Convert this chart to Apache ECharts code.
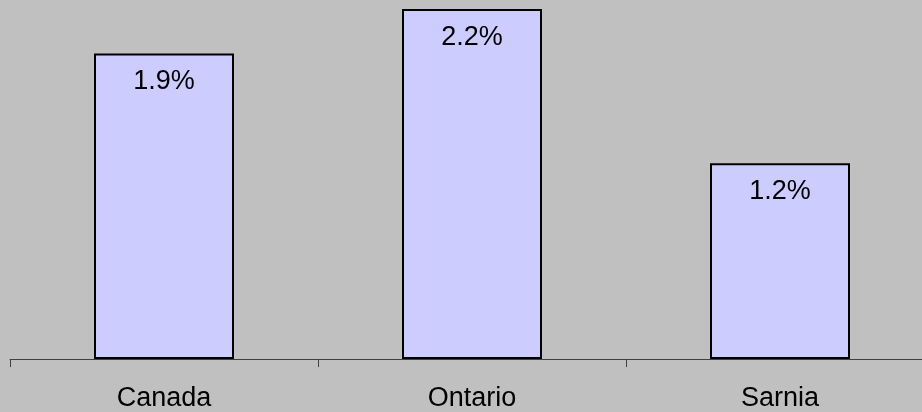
<!DOCTYPE html>
<html>
<head>
<meta charset="utf-8">
<script src="https://cdn.jsdelivr.net/npm/echarts@6/dist/echarts.min.js"></script>
<style>
    html, body { margin: 0; padding: 0; background: #c0c0c0; overflow: hidden; }
    /* plot runs past the right edge in the original, so the box is wider than the window */
    #main { width: 934px; height: 412px; }
</style>
</head>
<body>
<div id="main"></div>
<script>
    // regions
    var regions = ['Canada', 'Ontario', 'Sarnia'];
    // growth rate (%)
    var growth = [1.92, 2.2, 1.23];

    var chart = echarts.init(document.getElementById('main'));

    var option = {
        backgroundColor: '#c0c0c0',
        animation: false,
        grid: {
            left: 10,
            right: 0,
            top: 1,
            bottom: 51,
            containLabel: false
        },
        xAxis: {
            type: 'category',
            data: regions,
            axisLine: {
                lineStyle: { color: '#404040', width: 1 }
            },
            axisTick: {
                show: true,
                length: 8,
                lineStyle: { color: '#404040' }
            },
            axisLabel: {
                color: '#000',
                fontFamily: 'Liberation Sans',
                fontSize: 27,
                margin: 26
            }
        },
        yAxis: {
            type: 'value',
            min: 0,
            max: 2.25,
            show: false,
            splitLine: { show: false }
        },
        series: [{
            type: 'bar',
            data: growth,
            barWidth: 140,
            itemStyle: {
                color: '#ccccff',
                borderColor: '#000',
                borderWidth: 2
            },
            label: {
                show: true,
                position: 'insideTop',
                distance: 15,
                color: '#000',
                fontFamily: 'Liberation Sans',
                fontSize: 27,
                formatter: function(p) {
                    return p.value.toFixed(1) + '%';
                }
            }
        }]
    };

    chart.setOption(option);
    window.addEventListener('resize', function() {
        chart.resize();
    });
</script>
</body>
</html>
